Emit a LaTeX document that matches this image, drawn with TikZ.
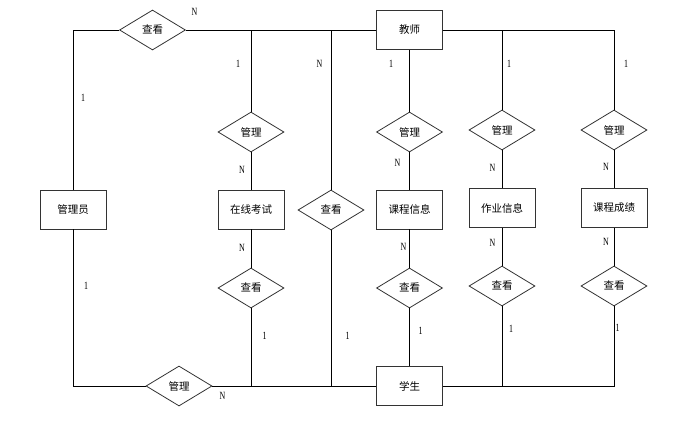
\documentclass[tikz,border=0pt]{standalone}
\usepackage{fontspec}
\usetikzlibrary{shapes.geometric}
\newfontfamily\cjk{Noto Sans CJK SC}
\newfontfamily\labfont[FakeStretch=0.72]{Liberation Serif}
\begin{document}
\begin{tikzpicture}[x=1pt,y=-1pt,line width=0.8pt,
  ent/.style={draw=black!80,fill=white,minimum width=66pt,minimum height=39pt,inner sep=0pt,font=\cjk\fontsize{10.5}{12}\selectfont},
  rel/.style={draw=black!80,fill=white,diamond,aspect=1.65,minimum width=66pt,minimum height=40pt,inner sep=0pt,font=\cjk\fontsize{10.5}{12}\selectfont},
  lab/.style={inner sep=0pt,font=\labfont\fontsize{11}{11}\selectfont}]
\useasboundingbox (0,0) rectangle (681,421);
% corner coordinates
\coordinate (tl) at (73,30);
\coordinate (bl) at (73,386);
\coordinate (t1) at (251,30);
\coordinate (t2) at (331,30);
\coordinate (t4) at (502,30);
\coordinate (t5) at (614,30);
\coordinate (b1) at (251,386);
\coordinate (b2) at (331,386);
\coordinate (b4) at (502,386);
\coordinate (b5) at (614,386);
% entities
\node[ent] (admin) at (73,209.5) {管理员};
\node[ent] (exam) at (251,209.5) {在线考试};
\node[ent] (course) at (409.5,209.5) {课程信息};
\node[ent] (hw) at (502,208) {作业信息};
\node[ent] (grade) at (614,208) {课程成绩};
\node[ent] (teacher) at (409.5,30) {教师};
\node[ent] (student) at (409.5,386) {学生};
% relations
\node[rel] (rtop) at (152.5,30) {查看};
\node[rel] (rbot) at (179,386) {管理};
\node[rel] (m1) at (251,132) {管理};
\node[rel] (v1) at (251,288) {查看};
\node[rel] (v2) at (331,210) {查看};
\node[rel] (m3) at (409.5,132) {管理};
\node[rel] (v3) at (409.5,288) {查看};
\node[rel] (m4) at (502,130) {管理};
\node[rel] (v4) at (502,286) {查看};
\node[rel] (m5) at (614,130) {管理};
\node[rel] (v5) at (614,286) {查看};
% connectors
\draw (rtop.west) -- (tl) -- (admin.north);
\draw (admin.south) -- (bl) -- (rbot.west);
\draw (rtop.east) -- (teacher.west);
\draw (rbot.east) -- (student.west);
\draw (teacher.east) -- (t5) -- (m5.north);
\draw (student.east) -- (b5) -- (v5.south);
\draw (t1) -- (m1.north);
\draw (m1.south) -- (exam.north);
\draw (exam.south) -- (v1.north);
\draw (v1.south) -- (b1);
\draw (t2) -- (v2.north);
\draw (v2.south) -- (b2);
\draw (teacher.south) -- (m3.north);
\draw (m3.south) -- (course.north);
\draw (course.south) -- (v3.north);
\draw (v3.south) -- (student.north);
\draw (t4) -- (m4.north);
\draw (m4.south) -- (hw.north);
\draw (hw.south) -- (v4.north);
\draw (v4.south) -- (b4);
\draw (m5.south) -- (grade.north);
\draw (grade.south) -- (v5.north);
% labels
\node[lab] (l1) at (194.5,12) {N};
\node[lab] (l2) at (83,98) {1};
\node[lab] (l3) at (238,64) {1};
\node[lab] (l4) at (319.5,64) {N};
\node[lab] (l5) at (391,64) {1};
\node[lab] (l6) at (509,64) {1};
\node[lab] (l7) at (626,64) {1};
\node[lab] (l8) at (242,170) {N};
\node[lab] (l9) at (397.5,163) {N};
\node[lab] (l10) at (492.5,168) {N};
\node[lab] (l11) at (606,167) {N};
\node[lab] (l12) at (242,247.5) {N};
\node[lab] (l13) at (403.5,247) {N};
\node[lab] (l14) at (492.5,243) {N};
\node[lab] (l15) at (606,242) {N};
\node[lab] (l16) at (86,286) {1};
\node[lab] (l17) at (264.5,335.5) {1};
\node[lab] (l18) at (347.5,336) {1};
\node[lab] (l19) at (420.5,331) {1};
\node[lab] (l20) at (511,329) {1};
\node[lab] (l21) at (617.5,328) {1};
\node[lab] (l22) at (222.5,396) {N};
\end{tikzpicture}
\end{document}
